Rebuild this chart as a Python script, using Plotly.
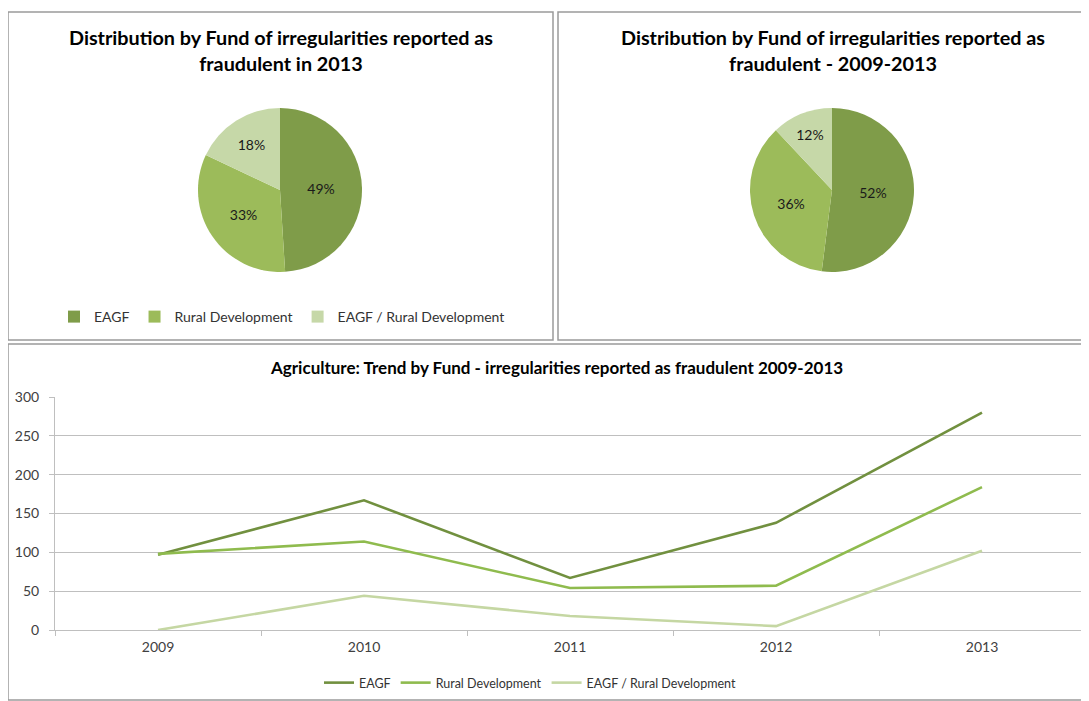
import plotly.graph_objects as go

# ---- data ----
funds = ["EAGF", "Rural Development", "EAGF / Rural Development"]
pie_2013 = [49, 33, 18]
pie_2009_2013 = [52, 36, 12]

years = ["2009", "2010", "2011", "2012", "2013"]
eagf = [97, 167, 67, 138, 280]
rural_dev = [98, 114, 54, 57, 184]
eagf_rd = [0, 44, 18, 5, 102]

pie_colors = ["#7f9c49", "#9cbb5a", "#c6d8a8"]
line_colors = ["#71903f", "#8fbb4e", "#c5d7a3"]

W, H = 1089, 701
OFF = 8  # page body margin
FONT = "Lato"


def px_x(v):
    return (v - OFF) / W


def px_y(v):
    return 1 - (v - OFF) / H


fig = go.Figure()

# pies
for vals, dom_x, leg in [
    (pie_2013, [198, 362], "legend"),
    (pie_2009_2013, [750, 914], "legend2"),
]:
    fig.add_trace(go.Pie(
        labels=funds, values=vals, sort=False, direction="clockwise", rotation=0,
        marker=dict(colors=pie_colors, line=dict(width=0)),
        textinfo="percent", textposition="inside", insidetextorientation="horizontal",
        textfont=dict(family=FONT, size=14, color="#1a1a1a"),
        domain=dict(x=[px_x(dom_x[0]), px_x(dom_x[1])], y=[px_y(272), px_y(108)]),
        legend=leg, hoverinfo="skip",
    ))

# lines
for name, vals, col in zip(funds, [eagf, rural_dev, eagf_rd], line_colors):
    fig.add_trace(go.Scatter(
        x=years, y=vals, mode="lines", name=name,
        line=dict(color=col, width=2.6), legend="legend3", hoverinfo="skip",
    ))

axis_font = dict(family=FONT, size=14, color="#404040")
leg_font = dict(family=FONT, size=14, color="#333333")
fig.update_layout(
    template="none",
    width=W, height=H, margin=dict(l=0, r=0, t=0, b=0, autoexpand=False),
    paper_bgcolor="white", plot_bgcolor="white",
    font=dict(family=FONT, color="#1a1a1a"),
    xaxis=dict(domain=[px_x(55), px_x(1085)], type="category", range=[-0.5, 4.5],
               showgrid=False, automargin=False, ticklabelstandoff=4,
               showline=True, linecolor="#bfbfbf", linewidth=1,
               ticks="outside", tickson="boundaries", ticklen=5, tickcolor="#bfbfbf",
               tickfont=axis_font, zeroline=False, fixedrange=True),
    yaxis=dict(domain=[px_y(630), px_y(397)], range=[0, 300], dtick=50, automargin=False,
               ticklabelstandoff=7,
               showgrid=True, gridcolor="#bfbfbf", gridwidth=1,
               showline=True, linecolor="#bfbfbf", linewidth=1,
               ticks="outside", ticklen=5, tickcolor="#bfbfbf",
               tickfont=axis_font, zeroline=False, fixedrange=True),
    legend=dict(orientation="h", x=px_x(282), y=px_y(317), xanchor="center", yanchor="middle",
                font=leg_font, bgcolor="rgba(0,0,0,0)"),
    legend2=dict(orientation="h", x=px_x(833), y=px_y(317), xanchor="center", yanchor="middle",
                 font=leg_font, bgcolor="rgba(0,0,0,0)"),
    legend3=dict(orientation="h", x=px_x(530), y=px_y(683), xanchor="center", yanchor="middle",
                 font=dict(family=FONT, size=12.5, color="#333333"),
                 bgcolor="rgba(0,0,0,0)", itemwidth=30),
    showlegend=True,
)

# panel borders
for x0, y0, x1, y1 in [(8, 12, 553, 340), (558, 12, 1087, 340), (8, 344, 1088, 700)]:
    fig.add_shape(type="rect", xref="paper", yref="paper",
                  x0=px_x(x0), x1=px_x(x1), y0=px_y(y1), y1=px_y(y0),
                  line=dict(color="#9a9a9a", width=1.5), layer="below")

# titles
title_font = dict(family=FONT, size=19.8, color="#000000")
fig.add_annotation(text="<b>Distribution by Fund of irregularities reported as<br>fraudulent in 2013</b>",
                   xref="paper", yref="paper", x=px_x(281), y=px_y(50), xanchor="center",
                   yanchor="middle", showarrow=False, font=title_font)
fig.add_annotation(text="<b>Distribution by Fund of irregularities reported as<br>fraudulent - 2009-2013</b>",
                   xref="paper", yref="paper", x=px_x(833), y=px_y(50), xanchor="center",
                   yanchor="middle", showarrow=False, font=title_font)
fig.add_annotation(text="<b>Agriculture: Trend by Fund - irregularities reported as fraudulent 2009-2013</b>",
                   xref="paper", yref="paper", x=px_x(556), y=px_y(367), xanchor="center",
                   yanchor="middle", showarrow=False, font=dict(family=FONT, size=17, color="#000000"))

fig.write_html("out.html", config={"displayModeBar": False})
